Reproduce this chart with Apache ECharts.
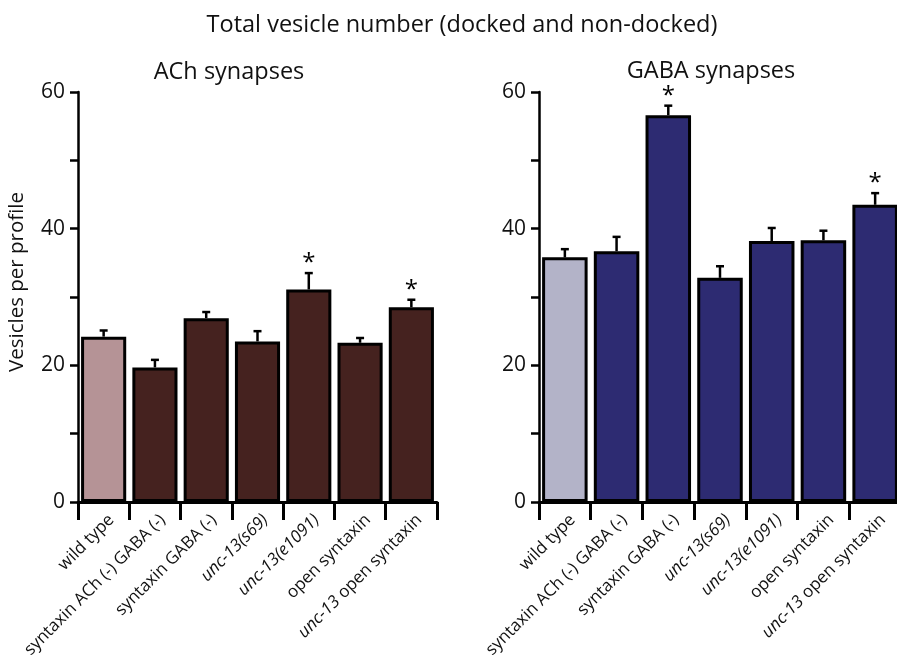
<!DOCTYPE html>
<html lang="en">

<head>
    <meta charset="UTF-8">
    <script src="https://cdn.jsdelivr.net/npm/echarts@6/dist/echarts.min.js"></script>
    <style>
        body {
            margin: 0;
            background-color: #ffffff;
        }
    </style>
</head>

<body>
    <div id="main" style="width: 897px;height:659px;"></div>
    <script type="text/javascript">
        // genotypes, same order in both panels
        const categories = ['wild type', 'syntaxin ACh (-) GABA (-)', 'syntaxin GABA (-)', 'unc-13(s69)',
            'unc-13(e1091)', 'open syntaxin', 'unc-13 open syntaxin'];
        // part of each label that is set in italics
        const italicPart = ['', '', '', 'unc-13(s69)', 'unc-13(e1091)', '', 'unc-13'];

        // ACh synapses: mean and SEM
        const achMean = [24.2, 19.7, 26.9, 23.5, 31.1, 23.3, 28.5];
        const achErr = [0.9, 1.1, 0.9, 1.5, 2.4, 0.7, 1.1];
        const achSig = [0, 0, 0, 0, 1, 0, 1];

        // GABA synapses: mean and SEM
        const gabaMean = [35.8, 36.7, 56.6, 32.8, 38.2, 38.3, 43.5];
        const gabaErr = [1.2, 2.1, 1.4, 1.7, 1.9, 1.4, 1.7];
        const gabaSig = [0, 0, 1, 0, 0, 0, 1];

        const yTicks = [0, 20, 40, 60];

        const FONT = '"Open Sans", "Noto Sans", sans-serif';

        var myChart = echarts.init(document.getElementById('main'));

        function labelFormatter(value, idx) {
            var i = categories.indexOf(value);
            var it = italicPart[i];
            if (!it) return value;
            return '{i|' + it + '}' + value.slice(it.length);
        }

        function barData(means, light, dark) {
            return means.map(function (v, i) {
                return { value: v, itemStyle: { color: i === 0 ? light : dark } };
            });
        }

        function errData(means, errs, sig) {
            return means.map(function (v, i) { return [i, v, errs[i], sig[i]]; });
        }

        // error bar: stem + cap, plus an asterisk when significant
        function renderErr(params, api) {
            var top = api.coord([api.value(0), api.value(1) + api.value(2)]);
            var base = api.coord([api.value(0), api.value(1)]);
            var children = [
                { type: 'line', shape: { x1: base[0], y1: base[1], x2: top[0], y2: top[1] },
                  style: { stroke: '#000', lineWidth: 2.5 } },
                { type: 'line', shape: { x1: top[0] - 4, y1: top[1], x2: top[0] + 4, y2: top[1] },
                  style: { stroke: '#000', lineWidth: 2.5 } }
            ];
            if (api.value(3)) {
                children.push({
                    type: 'text',
                    style: { text: '*', x: top[0], y: top[1] + 2, align: 'center', verticalAlign: 'bottom',
                             font: '24px ' + FONT, fill: '#000' }
                });
            }
            return { type: 'group', children: children };
        }

        function xAxis(gridIndex) {
            return {
                type: 'category', gridIndex: gridIndex, data: categories,
                axisLine: { lineStyle: { color: '#000', width: 3 } },
                axisTick: { show: true, interval: 0, length: 18, lineStyle: { color: '#000', width: 3 } },
                axisLabel: {
                    interval: 0, rotate: 45, margin: 23, padding: [0, -11, 0, 0],
                    fontSize: 17, color: '#111', fontFamily: FONT,
                    formatter: labelFormatter,
                    rich: { i: { fontStyle: 'italic', fontSize: 17, color: '#111', fontFamily: FONT } }
                }
            };
        }

        function yAxis(gridIndex, name) {
            return {
                type: 'value', gridIndex: gridIndex, min: 0, max: 60, interval: 10,
                name: name, nameLocation: 'middle', nameGap: 50,
                nameTextStyle: { fontSize: 20.5, color: '#111', fontFamily: FONT, padding: [0, 0, 0, 30] },
                splitLine: { show: false },
                axisLine: { show: true, lineStyle: { color: '#000', width: 2.5 } },
                axisTick: { show: true, length: 8, lineStyle: { color: '#000', width: 2.5 } },
                axisLabel: {
                    margin: 13, fontSize: 21, color: '#111', fontFamily: FONT,
                    formatter: function (v) { return yTicks.indexOf(v) >= 0 ? v : ''; }
                }
            };
        }

        myChart.setOption({
            animation: false,
            title: [
                { text: 'Total vesicle number (docked and non-docked)', left: 457, top: 8, textAlign: 'center',
                  textStyle: { fontSize: 23.5, fontWeight: 'normal', color: '#111', fontFamily: FONT } },
                { text: 'ACh synapses', left: 224, top: 55, textAlign: 'center',
                  textStyle: { fontSize: 23.5, fontWeight: 'normal', color: '#111', fontFamily: FONT } },
                { text: 'GABA synapses', left: 706, top: 54, textAlign: 'center',
                  textStyle: { fontSize: 23.5, fontWeight: 'normal', color: '#111', fontFamily: FONT } }
            ],
            grid: [
                { left: 78, width: 359, top: 92, bottom: 157, outerBoundsMode: 'none' },
                { left: 539, width: 362, top: 92, bottom: 157, outerBoundsMode: 'none' }
            ],
            xAxis: [xAxis(0), xAxis(1)],
            yAxis: [yAxis(0, 'Vesicles per profile'), yAxis(1, '')],
            series: [
                { type: 'bar', xAxisIndex: 0, yAxisIndex: 0, barCategoryGap: '12%',
                  data: barData(achMean, '#b59396', '#45221f'),
                  itemStyle: { borderColor: '#000', borderWidth: 3 } },
                { type: 'custom', xAxisIndex: 0, yAxisIndex: 0, z: 3,
                  data: errData(achMean, achErr, achSig), renderItem: renderErr },
                { type: 'bar', xAxisIndex: 1, yAxisIndex: 1, barCategoryGap: '12%',
                  data: barData(gabaMean, '#b3b3c8', '#2d2b72'),
                  itemStyle: { borderColor: '#000', borderWidth: 3 } },
                { type: 'custom', xAxisIndex: 1, yAxisIndex: 1, z: 3,
                  data: errData(gabaMean, gabaErr, gabaSig), renderItem: renderErr }
            ]
        });
    </script>
</body>

</html>
